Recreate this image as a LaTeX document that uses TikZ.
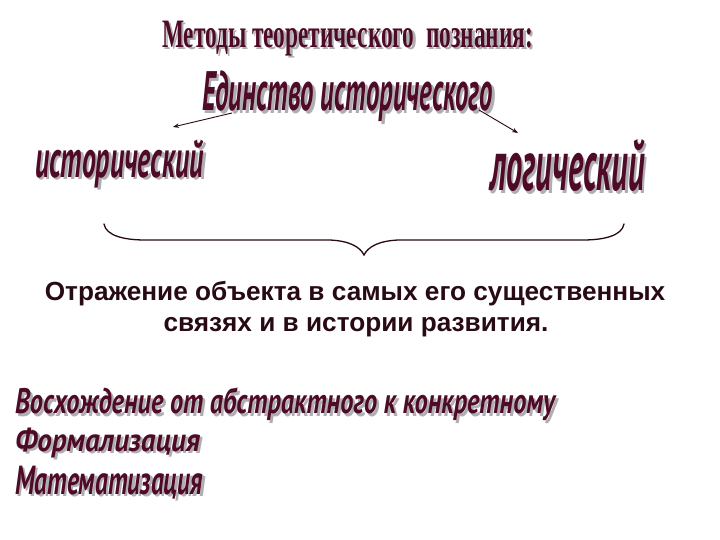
\documentclass[tikz,border=0pt]{standalone}
\usepackage{graphicx}
\usepackage{fontspec}
\setmainfont{Liberation Sans}
\newfontfamily\waf{PT Sans}
\newfontfamily\ttlf{Liberation Serif}
\usetikzlibrary{arrows.meta}
\definecolor{wamaroon}{RGB}{78,10,38}
\definecolor{washadow}{RGB}{175,175,178}
\definecolor{txtdark}{RGB}{40,10,22}
\tikzset{
  wa/.style={inner sep=0pt, outer sep=0pt, text=wamaroon},
  washadow/.style={inner sep=0pt, outer sep=0pt, text=washadow},
  linkarrow/.style={draw=txtdark, line width=0.9pt, -{Stealth[length=6pt,width=4.5pt]}},
  bracestyle/.style={draw=txtdark, line width=1.3pt, line cap=round},
  desctext/.style={inner sep=0pt, text=txtdark, font=\fontsize{26.2}{30}\selectfont\bfseries}
}
% name, x, ytop, width, height, text
\newcommand{\wordart}[6]{%
  \node[washadow, anchor=north west, xshift=2.5pt, yshift=-2.5pt] (#1s) at (#2,#3) {\resizebox*{#4pt}{#5pt}{#6}};
  \node[wa, anchor=north west] (#1) at (#2,#3) {\resizebox*{#4pt}{#5pt}{#6}};}
\begin{document}
\begin{tikzpicture}[x=1pt,y=-1pt]
\useasboundingbox[fill=white] (0,0) rectangle (720,540);

\wordart{title}{162}{21}{371}{35}{\ttlf\bfseries Методы теоретического\ \ познания:}
\wordart{unity}{202}{71}{291}{51}{\waf\bfseries\itshape Единство исторического}
\wordart{hist}{35}{140}{169}{48}{\waf\bfseries\itshape исторический}
\wordart{logic}{490}{140}{155}{52}{\waf\bfseries\itshape логический}
\wordart{asc}{15}{388}{540}{33}{\waf\bfseries\itshape Восхождение от абстрактного к конкретному}
\wordart{form}{15}{428}{185}{30}{\waf\bfseries\itshape Формализация}
\wordart{math}{15}{466}{188}{33}{\waf\bfseries\itshape Математизация}

% arrows
\coordinate (a1s) at (232,113);
\coordinate (a1e) at (173,127);
\coordinate (a2s) at (479,110);
\coordinate (a2e) at (518,133);
\draw[linkarrow] (a1s) -- (a1e);
\draw[linkarrow] (a2s) -- (a2e);

% brace
\draw[bracestyle] (104,224) .. controls (106,236) and (125,240) .. (145,240)
  -- (330,240) .. controls (350,241) and (360,247) .. (364,255)
  .. controls (368,247) and (378,241) .. (398,240)
  -- (583,240) .. controls (603,240) and (622,236) .. (624,224);

% description
\node[desctext, anchor=base] (desc1) at (355,300) {Отражение объекта в самых его существенных};
\node[desctext, anchor=base] (desc2) at (356,331) {связях и в истории развития.};
\end{tikzpicture}
\end{document}
